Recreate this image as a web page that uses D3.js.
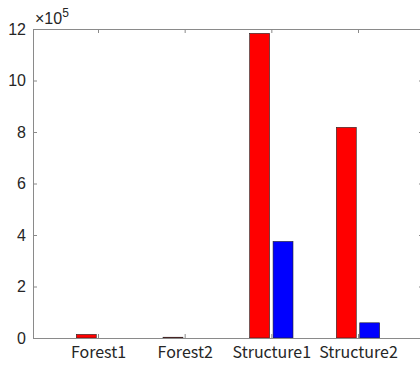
<!DOCTYPE html>
<html>
<head>
<meta charset="utf-8">
<script src="https://cdn.jsdelivr.net/npm/d3@7"></script>
<style>
  body { margin: 0; background: #fff; }
  svg { display: block; }
</style>
</head>
<body>
<div id="chart"></div>
<script>
const categories = ['Forest1', 'Forest2', 'Structure1', 'Structure2']
const seriesA = [14000, 3000, 1183000, 818000]   // red
const seriesB = [0, 0, 375000, 59000]            // blue
const yTicks = [0, 2, 4, 6, 8, 10, 12]

const W = 420, H = 365
const MARGIN = { TOP: 29, BOTTOM: 27, LEFT: 33, RIGHT: -3 }
const WIDTH = W - MARGIN.LEFT - MARGIN.RIGHT
const HEIGHT = H - MARGIN.TOP - MARGIN.BOTTOM
const AXIS = '#8a8a8a'

const svg = d3.select('#chart').append('svg')
  .attr('width', W)
  .attr('height', H)

const g = svg.append('g')
  .attr('transform', `translate(${MARGIN.LEFT}, ${MARGIN.TOP})`)

// x is numeric like matlab: categories at 1..4, limits 0.25..4.75
const x = d3.scaleLinear().domain([0.25, 4.75]).range([0, WIDTH])
const y = d3.scaleLinear().domain([0, 12e5]).range([HEIGHT, 0])

const barW = 0.23
const off = 0.135

// bars
const rows = categories.map((c, i) => ({ c, i: i + 1, a: seriesA[i], b: seriesB[i] }))

g.selectAll('.barA').data(rows).enter().append('rect')
  .attr('x', d => x(d.i - off - barW / 2))
  .attr('width', x(barW) - x(0))
  .attr('y', d => y(d.a))
  .attr('height', d => y(0) - y(d.a))
  .attr('fill', '#ff0000')
  .attr('stroke', '#222')
  .attr('stroke-width', 0.6)

g.selectAll('.barB').data(rows.filter(d => d.b > 0)).enter().append('rect')
  .attr('x', d => x(d.i + off - barW / 2))
  .attr('width', x(barW) - x(0))
  .attr('y', d => y(d.b))
  .attr('height', d => y(0) - y(d.b))
  .attr('fill', '#0000ff')
  .attr('stroke', '#222')
  .attr('stroke-width', 0.6)

// axes (ticks point inward)
const yAxisL = d3.axisLeft(y).tickValues(yTicks.map(t => t * 1e5))
  .tickFormat(d => d / 1e5).tickSizeInner(-4).tickSizeOuter(0).tickPadding(7)
const yAxisR = d3.axisRight(y).tickValues(yTicks.map(t => t * 1e5))
  .tickFormat('').tickSizeInner(-4).tickSizeOuter(0)
const xAxisB = d3.axisBottom(x).tickValues([1, 2, 3, 4])
  .tickFormat(d => categories[d - 1]).tickSizeInner(-4).tickSizeOuter(0).tickPadding(9)
const xAxisT = d3.axisTop(x).tickValues([1, 2, 3, 4])
  .tickFormat('').tickSizeInner(-4).tickSizeOuter(0)

function style(sel, font, size) {
  sel.attr('font-size', null).attr('font-family', null)
  sel.select('.domain').attr('stroke', AXIS)
  sel.selectAll('.tick line').attr('stroke', AXIS)
  sel.selectAll('.tick text').attr('fill', '#262626')
    .attr('font-family', font).attr('font-size', size)
}

g.append('g').call(yAxisL).call(s => style(s, '"Liberation Sans", Arial, sans-serif', 16))
g.append('g').attr('transform', `translate(${WIDTH},0)`).call(yAxisR).call(s => style(s, 'sans-serif', 12))
g.append('g').attr('transform', `translate(0,${HEIGHT})`).call(xAxisB)
  .call(s => style(s, '"Noto Sans CJK JP", sans-serif', 16))
g.append('g').call(xAxisT).call(s => style(s, 'sans-serif', 12))

// exponent label
const ex = g.append('text')
  .attr('x', 2)
  .attr('y', -5)
  .attr('fill', '#262626')
  .attr('font-family', '"Liberation Sans", Arial, sans-serif')
  .attr('font-size', 16)
ex.append('tspan').text('\u00d710')
ex.append('tspan').attr('dy', -7).attr('font-size', 12).text('5')
</script>
</body>
</html>
